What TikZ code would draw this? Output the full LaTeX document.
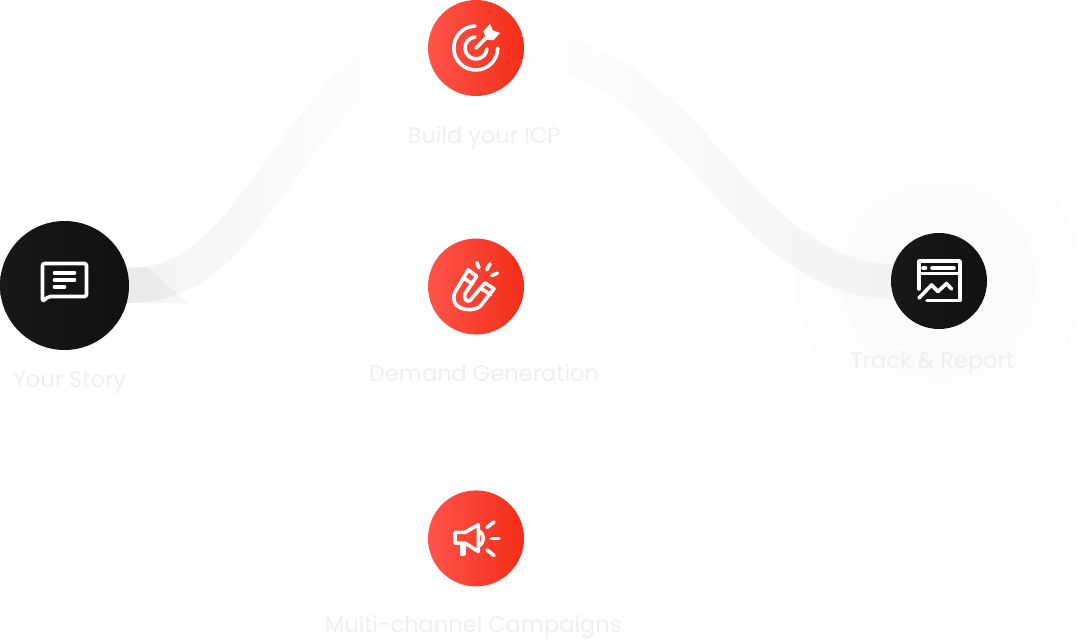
\documentclass[tikz,border=0pt]{standalone}
\usepackage{fontspec}
\setmainfont{Poppins}
\usetikzlibrary{positioning,backgrounds}
\definecolor{redleft}{RGB}{255,84,74}
\definecolor{redright}{RGB}{243,45,24}
\definecolor{darkleft}{RGB}{24,24,24}
\definecolor{darkright}{RGB}{17,17,17}
\definecolor{labelgray}{RGB}{239,239,239}
\definecolor{haloout}{RGB}{253,253,253}
\definecolor{haloin}{RGB}{251,251,251}
\tikzset{
  redball/.style={circle,minimum size=72pt,inner sep=0pt,left color=redleft,right color=redright},
  darkball/.style={circle,inner sep=0pt,left color=darkleft,right color=darkright},
  lbl/.style={font=\fontsize{16.9pt}{20pt}\selectfont,text=labelgray,inner sep=0pt},
  iconline/.style={draw=white,line width=2.7pt,line cap=round,line join=round},
  ribbon/.style={line width=26pt},
}
\newcommand{\bandleft}{(story.center) -- (story.east) .. controls (190,285.5) and (225,245) .. (midup) .. controls (315,125) and (360,50) .. (icp.west) -- (icp.center)}
\newcommand{\bandright}{(icp.center) -- (icp.east) .. controls (590,48) and (650,100) .. (middown) .. controls (735,190) and (800,281) .. (track.west) -- (track.center)}

\begin{document}
\begin{tikzpicture}[x=.75pt,y=-.75pt]
\useasboundingbox (0,0) rectangle (1082,642);
\node[darkball,minimum size=96.75pt] (story) at (64.5,285.5) {};
\node[redball] (icp) at (476,48) {};
\node[redball,below=106.5pt of icp] (demand) {};
\node[redball,below=116.5pt of demand] (campaigns) {};
\node[darkball,minimum size=72pt] (track) at (939,281) {};
\node[lbl,below=16pt of story,xshift=3.7pt] (storylbl) {Your Story};
\node[lbl,below=22pt of icp,xshift=6pt] (icplbl) {Build your ICP};
\node[lbl,below=22pt of demand,xshift=6pt] (demandlbl) {Demand Generation};
\node[lbl,below=21pt of campaigns,xshift=-2pt] (campaignslbl) {Multi-channel Campaigns};
\node[lbl,below=16.5pt of track,xshift=-5pt] (tracklbl) {Track \& Report};
\coordinate (midup) at (268,187);
\coordinate (middown) at (687,139);
\begin{pgfonlayer}{background}
\fill[haloout] (track.center) circle (143);
\fill[haloin] (track.center) circle (96.5);
% ribbon gets lighter towards the top
\foreach \x in {120,140,...,440}{
  \pgfmathsetmacro{\p}{max(0.1,4.5-4.4*(\x-130)/270)}
  \begin{scope}
  \clip (\x,0) rectangle ({\x+21},642);
  \draw[ribbon,draw=black!\p] \bandleft;
  \end{scope}
}
\foreach \x in {510,530,...,900}{
  \pgfmathsetmacro{\p}{max(0.4,0.4+4.6*(\x-520)/370)}
  \begin{scope}
  \clip (\x,0) rectangle ({\x+21},642);
  \draw[ribbon,draw=black!\p] \bandright;
  \end{scope}
}
\fill[black,fill opacity=.035] (128,267) -- (147,267) -- (188,303) -- (128,303) -- cycle;
\end{pgfonlayer}
% target and dart
\begin{scope}[shift={(icp.center)}]
\draw[iconline] (-1,-22) arc[start angle=-92,end angle=-360,radius=22];
\draw[iconline] (-1,-11) arc[start angle=-95,end angle=-355,radius=11];
\draw[iconline] (0,0) -- (12,-12);
\fill[white] (7.3,-16.7) -- (14,-24.3) -- (16.7,-17.7) -- (24,-15) -- (17.3,-7.7) -- (10.7,-8.3) -- cycle;
\end{scope}
% magnet
\begin{scope}[shift={(demand.center)}]
\draw[iconline] (-7.7,-16.7) -- (0.7,-10.3) -- (-11,7.3) .. controls (-13,12) and (-9,16) .. (-6,14) -- (9,-3.7) -- (18,2.3) -- (4,20) .. controls (-6,27) and (-28,22) .. (-21,5.7) -- cycle;
\draw[iconline] (-12.7,-8.7) -- (-3.3,-2.7);
\draw[iconline] (5.7,2.3) -- (14.7,8.3);
\draw[iconline] (0.7,-24) -- (3,-18.7);
\draw[iconline] (14,-22.7) -- (10.7,-16.7);
\draw[iconline] (21.3,-13.3) -- (15.7,-11);
\end{scope}
% megaphone
\begin{scope}[shift={(campaigns.center)}]
\draw[iconline] (2.3,-13.7) -- (-11,-6) -- (-21,-6) -- (-21,4.7) -- (-11,4.7) -- (2.3,13) -- cycle;
\draw[iconline] (-14.7,5) -- (-14.7,15.5) -- (-12.3,15.5) -- (-12.3,6);
\draw[iconline] (2.3,-7.5) .. controls (9,-5) and (9,5) .. (2.3,7.5);
\draw[iconline] (11,-11) -- (18,-16.5);
\draw[iconline] (15.5,0) -- (23,0);
\draw[iconline] (11,11.5) -- (18,17);
\end{scope}
% speech bubble
\begin{scope}[shift={(story.center)}]
\draw[iconline,rounded corners=1.5pt] (-22,16) -- (-22,-22) -- (22,-22) -- (22,11) -- (-16,11) -- cycle;
\draw[iconline] (-10,-12.7) -- (10,-12.7);
\draw[iconline] (-10,-5.5) -- (10,-5.5);
\draw[iconline] (-10,1.5) -- (0,1.5);
\end{scope}
% browser chart
\begin{scope}[shift={(track.center)}]
\draw[iconline] (-20,8) -- (-20,-20) -- (21,-20) -- (21,19.5) -- (-12,19.5);
\draw[iconline] (-20,-7.5) -- (21,-7.5);
\draw[iconline] (-16,-13) -- (-13.5,-13);
\draw[iconline] (-7,-13) -- (15,-13);
\draw[iconline] (-20,17) -- (-7.5,4) -- (-1,10.5) -- (7.5,2.5) -- (12.5,8);
\end{scope}
\end{tikzpicture}
\end{document}
